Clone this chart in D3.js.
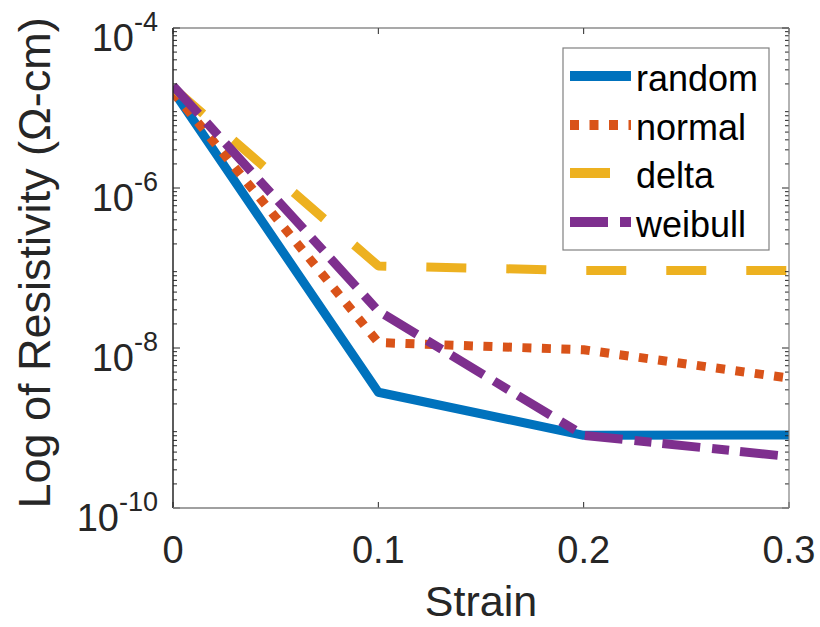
<!DOCTYPE html>
<html>
<head>
<meta charset="utf-8">
<script src="https://cdn.jsdelivr.net/npm/d3@7"></script>
<style>
  body { margin: 0; background: #fff; }
  svg { display: block; font-family: "Liberation Sans", Arial, sans-serif; }
</style>
</head>
<body>
<div id="viz"></div>
<script>
const strain = [0, 0.1, 0.2, 0.3];
const randomVals = [1.66e-5, 2.8e-9, 8.1e-10, 8.2e-10];
const normalVals = [1.58e-5, 1.17e-8, 9.5e-9, 4.2e-9];
const deltaVals = [1.8e-5, 1.06e-7, 9.3e-8, 9.3e-8];
const weibullVals = [1.9e-5, 2.9e-8, 8.1e-10, 4.4e-10];
const seriesNames = ["random", "normal", "delta", "weibull"];
const xTicks = [0, 0.1, 0.2, 0.3];
const yExponents = [-4, -6, -8, -10];

document.addEventListener("DOMContentLoaded", () => {
  const W = 820, H = 627;
  const left = 173, right = 789, top = 28, bottom = 508;
  const ink = "#262626";

  const svg = d3.select("#viz").append("svg")
    .attr("width", W)
    .attr("height", H);

  const x = d3.scaleLinear().domain([0, 0.3]).range([left, right]);
  const y = d3.scaleLog().domain([1e-10, 1e-4]).range([bottom, top]);

  // clip for the data lines
  svg.append("clipPath").attr("id", "plotClip")
    .append("rect")
    .attr("x", left).attr("y", top)
    .attr("width", right - left).attr("height", bottom - top);

  const series = [
    { name: seriesNames[0], values: randomVals, color: "#0072BD", dash: null },
    { name: seriesNames[1], values: normalVals, color: "#D95319", dash: "9,10.5" },
    { name: seriesNames[2], values: deltaVals, color: "#EDB120", dash: "40,40" },
    { name: seriesNames[3], values: weibullVals, color: "#7E2F8E", dash: "38,12,17,11" }
  ];

  const line = d3.line()
    .x((d, i) => x(strain[i]))
    .y(d => y(d));

  const lines = svg.append("g").attr("clip-path", "url(#plotClip)");
  series.forEach(s => {
    lines.append("path")
      .datum(s.values)
      .attr("d", line)
      .attr("fill", "none")
      .attr("stroke", s.color)
      .attr("stroke-width", 9)
      .attr("stroke-linejoin", "round")
      .attr("stroke-linecap", "butt")
      .attr("stroke-dasharray", s.dash);
  });

  // ticks
  const tickG = svg.append("g").attr("stroke", ink).attr("stroke-width", 1);
  const minor = [];
  for (let e = -10; e < -4; e++) {
    for (let m = 2; m <= 9; m++) minor.push(m * Math.pow(10, e));
  }
  minor.forEach(v => {
    tickG.append("line").attr("x1", left).attr("x2", left + 4).attr("y1", y(v)).attr("y2", y(v));
    tickG.append("line").attr("x1", right).attr("x2", right - 4).attr("y1", y(v)).attr("y2", y(v));
  });
  yExponents.forEach(e => {
    const v = Math.pow(10, e);
    tickG.append("line").attr("x1", left).attr("x2", left + 7).attr("y1", y(v)).attr("y2", y(v));
    tickG.append("line").attr("x1", right).attr("x2", right - 7).attr("y1", y(v)).attr("y2", y(v));
  });
  xTicks.forEach(t => {
    tickG.append("line").attr("x1", x(t)).attr("x2", x(t)).attr("y1", bottom).attr("y2", bottom - 6);
    tickG.append("line").attr("x1", x(t)).attr("x2", x(t)).attr("y1", top).attr("y2", top + 6);
  });

  // axes box
  svg.append("line").attr("x1", left).attr("x2", left).attr("y1", top).attr("y2", bottom)
    .attr("stroke", ink).attr("stroke-width", 1.5);
  svg.append("line").attr("x1", left).attr("x2", right).attr("y1", bottom).attr("y2", bottom)
    .attr("stroke", "#808080").attr("stroke-width", 1.5);
  svg.append("line").attr("x1", left).attr("x2", right).attr("y1", top).attr("y2", top)
    .attr("stroke", "#555").attr("stroke-width", 1.2);
  svg.append("line").attr("x1", right).attr("x2", right).attr("y1", top).attr("y2", bottom)
    .attr("stroke", "#808080").attr("stroke-width", 1.2);

  // x tick labels
  svg.append("g").selectAll("text")
    .data(xTicks)
    .enter().append("text")
    .attr("x", d => x(d))
    .attr("y", 563)
    .attr("text-anchor", "middle")
    .attr("fill", ink)
    .style("font-size", "38px")
    .text(d => d === 0 ? "0" : d3.format(".1f")(d));

  // y tick labels
  const yl = svg.append("g").selectAll("text")
    .data(yExponents)
    .enter().append("text")
    .attr("x", 158)
    .attr("y", d => y(Math.pow(10, d)) + 23)
    .attr("text-anchor", "end")
    .attr("fill", ink)
    .style("font-size", "38px");
  yl.append("tspan").text("10");
  yl.append("tspan")
    .attr("dy", -20)
    .style("font-size", "27px")
    .text(d => "-" + Math.abs(d));

  // axis labels
  svg.append("text")
    .attr("x", (left + right) / 2)
    .attr("y", 616)
    .attr("text-anchor", "middle")
    .attr("fill", ink)
    .style("font-size", "43px")
    .text("Strain");

  svg.append("text")
    .attr("transform", "translate(50,263) rotate(-90)")
    .attr("text-anchor", "middle")
    .attr("fill", ink)
    .style("font-size", "45px")
    .text("Log of Resistivity (\u03A9-cm)");

  // legend
  const legend = svg.append("g");
  legend.append("rect")
    .attr("x", 563).attr("y", 48)
    .attr("width", 206).attr("height", 202)
    .attr("fill", "#fff")
    .attr("stroke", "#808080")
    .attr("stroke-width", 1.2);
  const rowY = [76, 125, 173, 222];
  series.forEach((s, i) => {
    legend.append("line")
      .attr("x1", 570).attr("x2", 631)
      .attr("y1", rowY[i]).attr("y2", rowY[i])
      .attr("stroke", s.color)
      .attr("stroke-width", 10)
      .attr("stroke-dasharray", s.dash);
    legend.append("text")
      .attr("x", 636)
      .attr("y", rowY[i] + 15)
      .attr("fill", "#000")
      .style("font-size", "36px")
      .text(s.name);
  });
});
</script>
</body>
</html>
